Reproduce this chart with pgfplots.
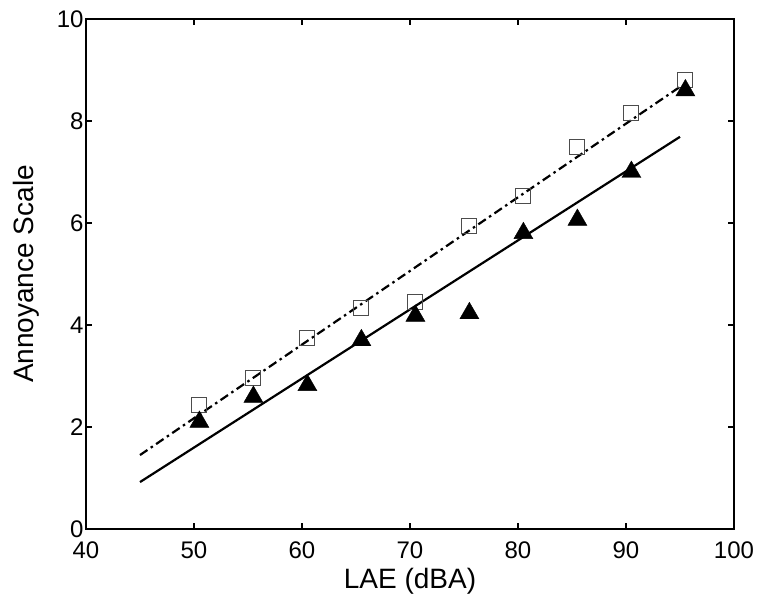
\documentclass[border=0pt]{standalone}
\usepackage{pgfplots}
\pgfplotsset{compat=1.18}
\usepackage{fontspec}
\setmainfont{Liberation Sans}
\begin{document}
\begin{tikzpicture}
\useasboundingbox (-86pt,-70pt) rectangle (674pt,529pt);
\begin{axis}[
  scale only axis, width=648pt, height=510pt,
  xmin=40, xmax=100, ymin=0, ymax=10,
  xtick={40,50,...,100}, ytick={0,2,...,10},
  tick align=inside, major tick length=6pt,
  axis line style={line width=2pt},
  every tick/.style={line width=1.5pt, black},
  tick label style={font=\fontsize{24}{28}\selectfont},
  label style={font=\fontsize{28}{32}\selectfont},
  /pgf/number format/assume math mode=true,
  xticklabel style={yshift=-9pt},
  yticklabel style={xshift=1pt},
  xlabel={LAE (dBA)}, ylabel={Annoyance Scale},
  xlabel style={yshift=-3pt},
  ylabel style={yshift=11pt},
  clip=false,
]
\addplot[black, line width=2.2pt, dash pattern=on 9pt off 4pt on 2.5pt off 4pt] coordinates {(45,1.45) (95,8.67)};
\addplot[black, line width=2.2pt] coordinates {(45,0.92) (95,7.69)};
\addplot[only marks, mark=square, mark size=7.5pt, mark options={draw=black!70, line width=1pt, fill=none}] coordinates {
(50.5,2.43) (55.5,2.96) (60.5,3.75) (65.5,4.33) (70.5,4.45) (75.5,5.94) (80.5,6.53) (85.5,7.49) (90.5,8.16) (95.5,8.80)};
\addplot[only marks, mark=triangle*, mark size=11pt, mark options={fill=black, draw=black}] coordinates {
(50.5,2.10) (55.5,2.59) (60.5,2.82) (65.5,3.70) (70.5,4.18) (75.5,4.23) (80.5,5.80) (85.5,6.06) (90.5,7.00) (95.5,8.60)};
\end{axis}
\end{tikzpicture}
\end{document}
